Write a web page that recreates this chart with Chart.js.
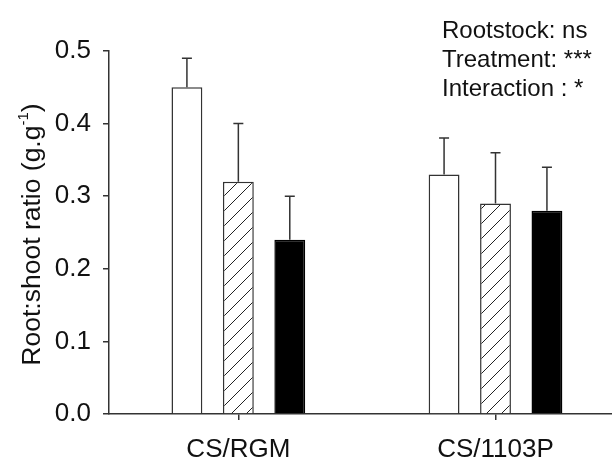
<!DOCTYPE html>
<html>
<head>
<meta charset="utf-8">
<title>Root:shoot ratio</title>
<script src="https://cdn.jsdelivr.net/npm/chart.js"></script>
<style>
  html, body { margin: 0; padding: 0; background: #fff; }
  .chart-container { position: relative; width: 612px; height: 460px; }
</style>
</head>
<body>
<div class="chart-container"><canvas id="myChart"></canvas></div>
<script>
// Groups on the x axis and their positions on the linear scale
const categories = ['CS/RGM', 'CS/1103P'];
const categoryPos = [1, 2];

// Means and standard errors for the three treatments
const openMeans = [0.45, 0.33];
const openErrors = [0.04, 0.05];
const hatchedMeans = [0.32, 0.29];
const hatchedErrors = [0.08, 0.07];
const filledMeans = [0.24, 0.28];
const filledErrors = [0.06, 0.06];

const yTicks = [0, 0.1, 0.2, 0.3, 0.4, 0.5];
const statsLines = ['Rootstock: ns', 'Treatment: ***', 'Interaction : *'];

const FONT = "'Liberation Sans', Arial, sans-serif";
const INK = '#333';

// Diagonal "/" hatch fill
function makeHatch() {
  const s = 15;
  const c = document.createElement('canvas');
  c.width = s; c.height = s;
  const g = c.getContext('2d');
  g.fillStyle = '#fff';
  g.fillRect(0, 0, s, s);
  g.strokeStyle = '#222';
  g.lineWidth = 1;
  g.beginPath();
  g.moveTo(0, s); g.lineTo(s, 0);
  g.moveTo(-2, 2); g.lineTo(2, -2);
  g.moveTo(s - 2, s + 2); g.lineTo(s + 2, s - 2);
  g.stroke();
  return g.createPattern(c, 'repeat');
}

function points(means) {
  return categoryPos.map((x, i) => ({ x: x, y: means[i] }));
}

// Upper error bars with a short cap
const errorBars = {
  id: 'errorBars',
  afterDatasetsDraw(chart) {
    const ctx = chart.ctx;
    const y = chart.scales.y;
    ctx.save();
    ctx.strokeStyle = INK;
    ctx.lineWidth = 1.5;
    chart.data.datasets.forEach((ds, i) => {
      const meta = chart.getDatasetMeta(i);
      meta.data.forEach((bar, j) => {
        const top = y.getPixelForValue(ds.data[j].y + ds.errors[j]);
        ctx.beginPath();
        ctx.moveTo(bar.x, bar.y);
        ctx.lineTo(bar.x, top);
        ctx.moveTo(bar.x - 5, top);
        ctx.lineTo(bar.x + 5, top);
        ctx.stroke();
      });
    });
    ctx.restore();
  }
};

// Rotated y title with superscript, plus the stats text block
const labels = {
  id: 'labels',
  afterDraw(chart) {
    const ctx = chart.ctx;
    const area = chart.chartArea;
    ctx.save();
    ctx.fillStyle = '#111';

    const main = 'Root:shoot ratio (g.g';
    const sup = '-1';
    const tail = ')';
    ctx.font = '26.5px ' + FONT;
    const wMain = ctx.measureText(main).width;
    const wTail = ctx.measureText(tail).width;
    ctx.font = '15px ' + FONT;
    const wSup = ctx.measureText(sup).width;
    const total = wMain + wSup + wTail;

    ctx.translate(40, (area.top + area.bottom) / 2 + 2);
    ctx.rotate(-Math.PI / 2);
    ctx.textBaseline = 'alphabetic';
    ctx.textAlign = 'left';
    let x = -total / 2;
    ctx.font = '26.5px ' + FONT;
    ctx.fillText(main, x, 0);
    x += wMain;
    ctx.font = '15px ' + FONT;
    ctx.fillText(sup, x, -12);
    x += wSup;
    ctx.font = '26.5px ' + FONT;
    ctx.fillText(tail, x, 0);
    ctx.restore();

    ctx.save();
    ctx.fillStyle = '#111';
    ctx.font = '24px ' + FONT;
    ctx.textAlign = 'left';
    ctx.textBaseline = 'alphabetic';
    statsLines.forEach((line, i) => {
      ctx.fillText(line, 442, 38 + i * 29);
    });
    ctx.restore();
  }
};

const ctx = document.getElementById('myChart').getContext('2d');
new Chart(ctx, {
  type: 'bar',
  data: {
    datasets: [
      {
        label: 'open',
        data: points(openMeans),
        errors: openErrors,
        backgroundColor: '#fff',
        borderColor: INK,
        borderWidth: 1.5
      },
      {
        label: 'hatched',
        data: points(hatchedMeans),
        errors: hatchedErrors,
        backgroundColor: makeHatch(),
        borderColor: INK,
        borderWidth: 1.5
      },
      {
        label: 'filled',
        data: points(filledMeans),
        errors: filledErrors,
        backgroundColor: '#000',
        borderColor: '#000',
        borderWidth: 1.5
      }
    ]
  },
  options: {
    responsive: true,
    maintainAspectRatio: false,
    animation: false,
    categoryPercentage: 0.6,
    barPercentage: 0.6,
    layout: { padding: { top: 51, right: 0, bottom: 0, left: 0 } },
    plugins: {
      legend: { display: false },
      tooltip: { enabled: false }
    },
    scales: {
      x: {
        type: 'linear',
        offset: false,
        min: 0.497,
        max: 2.453,
        afterBuildTicks(scale) {
          scale.ticks = categoryPos.map(v => ({ value: v }));
        },
        afterFit(scale) { scale.height = 46; },
        ticks: {
          callback: (v, i) => categories[i],
          font: { family: FONT, size: 26 },
          color: '#111',
          padding: 14,
          maxRotation: 0,
          autoSkip: false
        },
        grid: {
          offset: false,
          drawOnChartArea: false,
          drawTicks: true,
          tickLength: 6,
          color: INK,
          lineWidth: 1.5
        },
        border: { display: true, color: INK, width: 1.5 }
      },
      y: {
        min: 0,
        max: 0.5,
        afterBuildTicks(scale) {
          scale.ticks = yTicks.map(v => ({ value: v }));
        },
        afterFit(scale) { scale.width = 109; },
        ticks: {
          callback: v => v.toFixed(1),
          font: { family: FONT, size: 26 },
          color: '#111',
          padding: 12
        },
        grid: {
          drawOnChartArea: false,
          drawTicks: true,
          tickLength: 6,
          color: INK,
          lineWidth: 1.5
        },
        border: { display: true, color: INK, width: 1.5 }
      }
    }
  },
  plugins: [errorBars, labels]
});
</script>
</body>
</html>
